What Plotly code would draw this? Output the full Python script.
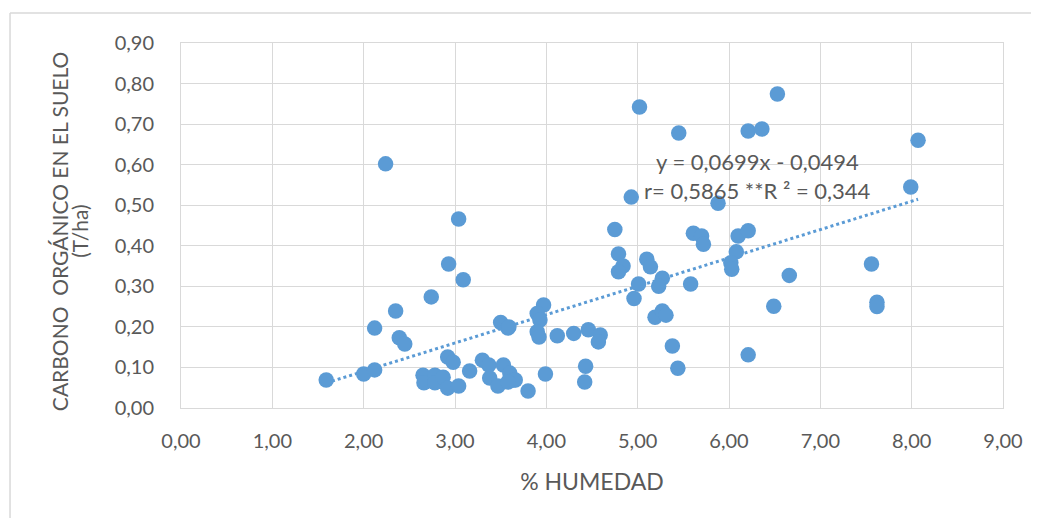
import plotly.graph_objects as go

# % humedad vs carbono organico (T/ha)
humedad = [1.59, 2.00, 2.12, 2.12, 2.24, 2.35, 2.39, 2.45, 2.74, 2.93,
           3.04, 3.09, 2.92, 2.98, 2.65, 2.66, 2.78, 2.78, 2.87, 2.92,
           3.04, 3.16, 3.30, 3.37, 3.38, 3.47, 3.53, 3.60, 3.64, 3.50,
           3.58, 3.59, 3.66, 3.58, 3.80, 3.97, 3.90, 3.93, 3.90, 3.92,
           4.12, 4.30, 4.46, 4.59, 4.57, 3.99, 4.43, 4.42, 4.93, 4.75,
           4.79, 4.84, 4.79, 5.10, 5.14, 5.01, 4.96, 5.27, 5.23, 5.58,
           5.19, 5.27, 5.31, 5.38, 5.44, 5.02, 5.45, 6.53, 6.21, 6.36,
           5.88, 5.61, 5.70, 5.72, 6.10, 6.21, 6.08, 6.02, 6.03, 6.66,
           7.56, 6.49, 7.62, 7.62, 6.21, 8.07, 7.99]
carbono = [0.069, 0.084, 0.094, 0.197, 0.602, 0.239, 0.173, 0.158, 0.274, 0.355,
           0.466, 0.316, 0.126, 0.113, 0.081, 0.062, 0.081, 0.062, 0.076, 0.049,
           0.054, 0.091, 0.118, 0.106, 0.074, 0.054, 0.106, 0.086, 0.069, 0.211,
           0.197, 0.200, 0.069, 0.064, 0.042, 0.254, 0.233, 0.217, 0.188, 0.175,
           0.178, 0.184, 0.193, 0.180, 0.163, 0.084, 0.103, 0.064, 0.520, 0.440,
           0.380, 0.350, 0.336, 0.367, 0.348, 0.306, 0.270, 0.320, 0.300, 0.306,
           0.224, 0.239, 0.229, 0.153, 0.098, 0.742, 0.678, 0.774, 0.683, 0.688,
           0.505, 0.431, 0.424, 0.404, 0.424, 0.437, 0.385, 0.358, 0.342, 0.327,
           0.355, 0.251, 0.261, 0.250, 0.131, 0.660, 0.545]

# linear trend as printed on the chart
pendiente = 0.0699
intercepto = -0.0494
ecuacion = "y = 0,0699x - 0,0494"
estadisticos = "r= 0,5865 **R ² = 0,344"
titulo_y1 = "CARBONO  ORGÁNICO EN EL SUELO"
titulo_y2 = "(T/ha)"

x_lin = [min(humedad), max(humedad)]
y_lin = [pendiente * v + intercepto for v in x_lin]

azul = "#5B9BD5"
gris_txt = "#595959"
grid = "#D9D9D9"
fuente = "Lato"

fig = go.Figure()
fig.add_trace(go.Scatter(x=x_lin, y=y_lin, mode="lines",
                         line=dict(color=azul, width=3, dash="dot"),
                         hoverinfo="skip", showlegend=False))
fig.add_trace(go.Scatter(x=humedad, y=carbono, mode="markers",
                         marker=dict(color=azul, size=15.5, line=dict(width=0)),
                         showlegend=False))

def nota(texto, x, y, size, angle=0):
    return dict(text=texto, xref="paper", yref="paper", x=x, y=y,
                xanchor="center", yanchor="middle", textangle=angle,
                showarrow=False, font=dict(size=size, color=gris_txt, family=fuente))

# chart frame: only top and left edges are visible in the crop
marco = [
    dict(type="line", xref="paper", yref="paper", x0=-0.208, x1=1.3,
         y0=1.082, y1=1.082, line=dict(color=grid, width=1.5), layer="below"),
    dict(type="line", xref="paper", yref="paper", x0=-0.208, x1=-0.208,
         y0=1.082, y1=-0.6, line=dict(color=grid, width=1.5), layer="below"),
]

# page body has an 8px margin, so the figure is 8px smaller each way
fig.update_layout(
    width=1031, height=510,
    margin=dict(l=173, r=36, t=35, b=110, autoexpand=False),
    paper_bgcolor="white", plot_bgcolor="white",
    separators=",.",
    font=dict(family=fuente, color=gris_txt, size=20),
    shapes=marco,
    annotations=[
        nota(ecuacion, 0.701, 0.674, 22),
        nota(estadisticos, 0.701, 0.595, 22),
        nota(titulo_y1, -0.147, 0.485, 21, -90),
        nota(titulo_y2, -0.123, 0.485, 21, -90),
    ],
)
fig.update_xaxes(range=[0, 9], dtick=1, tickformat=".2f",
                 showgrid=True, gridcolor=grid, gridwidth=1,
                 showline=True, linecolor=grid, mirror=True, zeroline=False,
                 ticks="outside", ticklen=15, tickcolor="white",
                 tickfont=dict(size=20),
                 title=dict(text="% HUMEDAD", font=dict(size=23), standoff=22))
fig.update_yaxes(range=[0, 0.9], dtick=0.1, tickformat=".2f",
                 showgrid=True, gridcolor=grid, gridwidth=1,
                 showline=True, linecolor=grid, mirror=True, zeroline=False,
                 ticks="outside", ticklen=22, tickcolor="white",
                 tickfont=dict(size=20))

fig.write_html("out.html")
